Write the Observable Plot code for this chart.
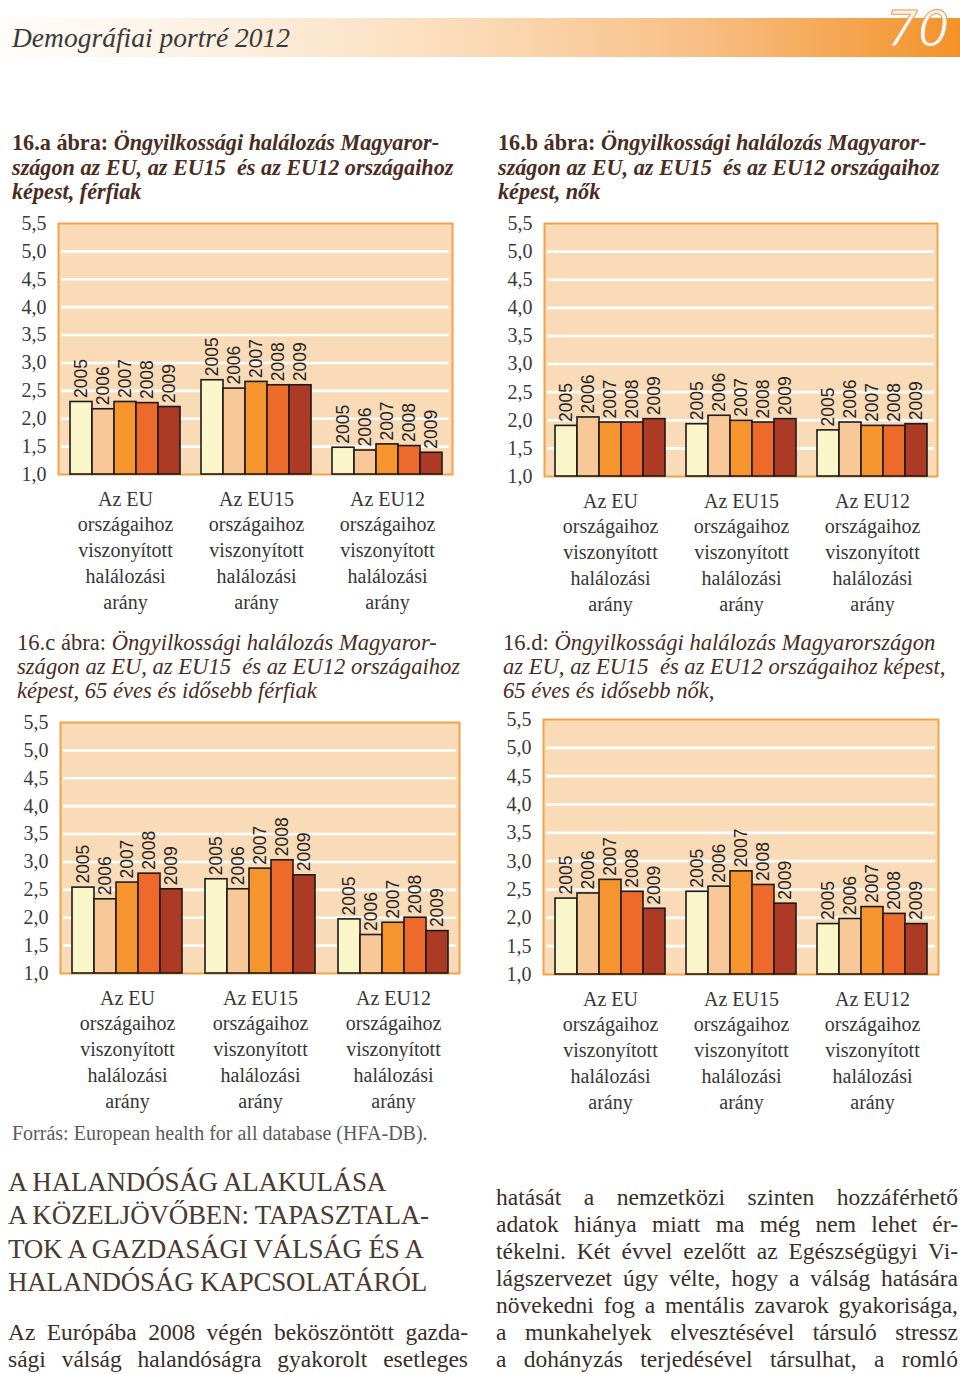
<!DOCTYPE html>
<html lang="hu">
<head>
<meta charset="utf-8">
<script src="https://cdn.jsdelivr.net/npm/d3@7"></script>
<script src="https://cdn.jsdelivr.net/npm/@observablehq/plot@0.6"></script>
<style>
  body { margin: 0; background: #fff; }
  #page { position: relative; width: 960px; height: 1374px; overflow: hidden; font-family: "Liberation Serif", serif; color: #3b2a22; }
  .abs { position: absolute; white-space: nowrap; }
  #band { left: 0; top: 18px; width: 960px; height: 39px;
    background: linear-gradient(to right, #fffdfa 0%, #fdf0e2 22%, #fbdcb9 48%, #f8c088 72%, #f39227 100%); }
  #hdr { left: 12px; top: 18px; font-style: italic; font-size: 27.5px; line-height: 39px; color: #3a3a3a; }
  #num { left: 886px; top: 0px; font-style: italic; font-size: 50px; line-height: 58px; color: #fff4e8;
    -webkit-text-stroke: 1px #e79a55; font-family: "DejaVu Sans", sans-serif; }
  .title { font-size: 22.2px; line-height: 24.5px; color: #4a2c22; font-weight: bold; font-style: italic; }
  .title b { font-style: normal; }
  .title.light { font-weight: normal; font-size: 22.6px; line-height: 24px; letter-spacing: 0px; }
  .title.light span.n { font-style: normal; }
  .chart { position: absolute; }
  .chart svg { position: absolute; left: 0; top: 0; }
  .chart [aria-label^="y-axis"] text { font-family: "Liberation Serif", serif; font-size: 20px; fill: #3a3a3a; }
  #src { left: 12px; top: 1121px; font-size: 20px; line-height: 24px; color: #5a5a5a; }
  #head { left: 8px; top: 1166px; font-size: 27px; line-height: 33.4px; color: #4a3a30; letter-spacing: -0.2px; }
  .para { font-size: 23.5px; line-height: 27px; color: #3a2e28; }
  .para div { text-align: justify; text-align-last: justify; }
  #pl { left: 8px; top: 1319px; width: 460px; }
  #pr { left: 496px; top: 1184px; width: 462px; }
</style>
</head>
<body>
<div id="page">
  <div id="band" class="abs"></div>
  <div id="hdr" class="abs">Demográfiai portré 2012</div>
  <div id="num" class="abs">70</div>

  <div class="abs title" style="left:12px;top:131px"><b>16.a ábra:</b> Öngyilkossági halálozás Magyaror-<br>szágon az EU, az EU15&nbsp; és az EU12 országaihoz<br>képest, férfiak</div>
  <div class="abs title" style="left:498px;top:131px"><b>16.b ábra:</b> Öngyilkossági halálozás Magyaror-<br>szágon az EU, az EU15&nbsp; és az EU12 országaihoz<br>képest, nők</div>
  <div class="abs title light" style="left:17px;top:631px"><span class="n">16.c ábra:</span> Öngyilkossági halálozás Magyaror-<br>szágon az EU, az EU15&nbsp; és az EU12 országaihoz<br>képest, 65 éves és idősebb férfiak</div>
  <div class="abs title light" style="left:503px;top:631px"><span class="n">16.d:</span> Öngyilkossági halálozás Magyarországon<br>az EU, az EU15&nbsp; és az EU12 országaihoz képest,<br>65 éves és idősebb nők,</div>

  <div id="chartA" class="chart"></div>
  <div id="chartB" class="chart"></div>
  <div id="chartC" class="chart"></div>
  <div id="chartD" class="chart"></div>

  <div id="src" class="abs">Forrás: European health for all database (HFA-DB).</div>

  <div id="head" class="abs">A HALANDÓSÁG ALAKULÁSA<br>A KÖZELJÖVŐBEN: TAPASZTALA-<br>TOK A GAZDASÁGI VÁLSÁG ÉS A<br>HALANDÓSÁG KAPCSOLATÁRÓL</div>
  <div id="pl" class="abs para">
    <div>Az Európába 2008 végén beköszöntött gazda-</div>
    <div>sági válság halandóságra gyakorolt esetleges</div>
  </div>
  <div id="pr" class="abs para">
    <div>hatását a nemzetközi szinten hozzáférhető</div>
    <div>adatok hiánya miatt ma még nem lehet ér-</div>
    <div>tékelni. Két évvel ezelőtt az Egészségügyi Vi-</div>
    <div>lágszervezet úgy vélte, hogy a válság hatására</div>
    <div>növekedni fog a mentális zavarok gyakorisága,</div>
    <div>a munkahelyek elvesztésével társuló stressz</div>
    <div>a dohányzás terjedésével társulhat, a romló</div>
  </div>
</div>
<script>
// ---- data ----
const years = ["2005", "2006", "2007", "2008", "2009"];
const groupKeys = ["EU", "EU15", "EU12"];
const groupNames = ["Az EU", "Az EU15", "Az EU12"];
const groupLabelLines = ["országaihoz", "viszonyított", "halálozási", "arány"];
const yTicks = [1.0, 1.5, 2.0, 2.5, 3.0, 3.5, 4.0, 4.5, 5.0, 5.5];
const gridValues = [1.5, 2.0, 2.5, 3.0, 3.5, 4.0, 4.5, 5.0];
const yDomain = [1.0, 5.5];
const yearColors = ["#fbf6ca", "#f9c898", "#f6952e", "#ed6a2b", "#ad3a25"];

// 16.a férfiak
const menEU   = [2.30, 2.17, 2.30, 2.28, 2.21];
const menEU15 = [2.69, 2.54, 2.66, 2.60, 2.60];
const menEU12 = [1.48, 1.43, 1.54, 1.51, 1.39];
// 16.b nők
const womenEU   = [1.90, 2.05, 1.96, 1.96, 2.02];
const womenEU15 = [1.93, 2.08, 1.99, 1.96, 2.02];
const womenEU12 = [1.82, 1.96, 1.90, 1.90, 1.93];
// 16.c 65+ férfiak
const oldMenEU   = [2.54, 2.33, 2.63, 2.79, 2.51];
const oldMenEU15 = [2.69, 2.51, 2.88, 3.03, 2.76];
const oldMenEU12 = [1.97, 1.69, 1.91, 2.00, 1.76];
// 16.d 65+ nők
const oldWomenEU   = [2.34, 2.43, 2.67, 2.46, 2.16];
const oldWomenEU15 = [2.46, 2.55, 2.82, 2.58, 2.25];
const oldWomenEU12 = [1.89, 1.98, 2.19, 2.07, 1.89];

// ---- drawing ----
const fmt = d => d.toFixed(1).replace(".", ",");
const frameFill = "#f9dbb8";
const frameStroke = "#f0a448";

function drawChart(id, series, box) {
  const el = document.getElementById(id);
  el.style.left = box.left + "px";
  el.style.top = box.top + "px";
  el.style.width = box.width + "px";
  el.style.height = box.height + "px";

  const rows = [];
  groupKeys.forEach((g, gi) => series[gi].forEach((v, yi) => rows.push({
    group: g, year: years[yi], value: v,
    label: [groupNames[gi], ...groupLabelLines].join("\n")
  })));

  const common = {
    width: box.width, height: box.height,
    marginLeft: box.ml, marginRight: box.mr, marginTop: box.mt, marginBottom: box.mb
  };

  const bg = Plot.plot({
    ...common,
    style: { background: "transparent", overflow: "visible", fontFamily: "Liberation Serif, serif", fontSize: "20px", color: "#3a3a3a" },
    x: { domain: [0, 1], axis: null },
    y: { domain: yDomain, ticks: yTicks, tickFormat: fmt, tickSize: 0, tickPadding: 12, label: null },
    marks: [
      Plot.frame({ fill: frameFill, stroke: "none" }),
      Plot.ruleY(gridValues, { stroke: "#ffffff", strokeWidth: 2.6, insetLeft: 3, insetRight: 3 }),
      Plot.frame({ stroke: frameStroke, strokeWidth: 2 })
    ]
  });

  const fg = Plot.plot({
    ...common,
    style: { background: "transparent", overflow: "visible" },
    facet: { data: rows, x: "group", marginTop: 0, marginBottom: 0, marginLeft: 0, marginRight: 0 },
    fx: { domain: groupKeys, padding: 0, axis: null, label: null },
    x: { domain: years, paddingInner: 0, paddingOuter: 0.41, axis: null },
    y: { domain: yDomain, axis: null },
    color: { domain: years, range: yearColors },
    marks: [
      Plot.barY(rows, { x: "year", y1: 1, y2: "value", fill: "year", stroke: "#1b1b1b", strokeWidth: 1.6 }),
      Plot.text(rows, { x: "year", y: "value", text: "year", rotate: -90, textAnchor: "start", dy: -4,
        fontFamily: "Liberation Sans, Arial, sans-serif", fontSize: 17.5, fill: "#262626" }),
      Plot.text(rows, { filter: d => d.year === years[2], x: "year", text: "label", frameAnchor: "bottom",
        lineAnchor: "top", dy: 13, lineHeight: 1.285, fontFamily: "Liberation Serif, serif", fontSize: 20, fill: "#363636" })
    ]
  });

  el.appendChild(bg);
  el.appendChild(fg);
}

drawChart("chartA", [menEU, menEU15, menEU12],
  { left: 0, top: 205, width: 480, height: 420, ml: 58, mr: 28, mt: 18, mb: 151 });
drawChart("chartB", [womenEU, womenEU15, womenEU12],
  { left: 480, top: 205, width: 480, height: 420, ml: 64, mr: 23, mt: 18, mb: 149 });
drawChart("chartC", [oldMenEU, oldMenEU15, oldMenEU12],
  { left: 0, top: 704, width: 480, height: 420, ml: 60, mr: 21, mt: 18, mb: 151 });
drawChart("chartD", [oldWomenEU, oldWomenEU15, oldWomenEU12],
  { left: 480, top: 701, width: 480, height: 420, ml: 63, mr: 22, mt: 18, mb: 147 });
</script>
</body>
</html>
